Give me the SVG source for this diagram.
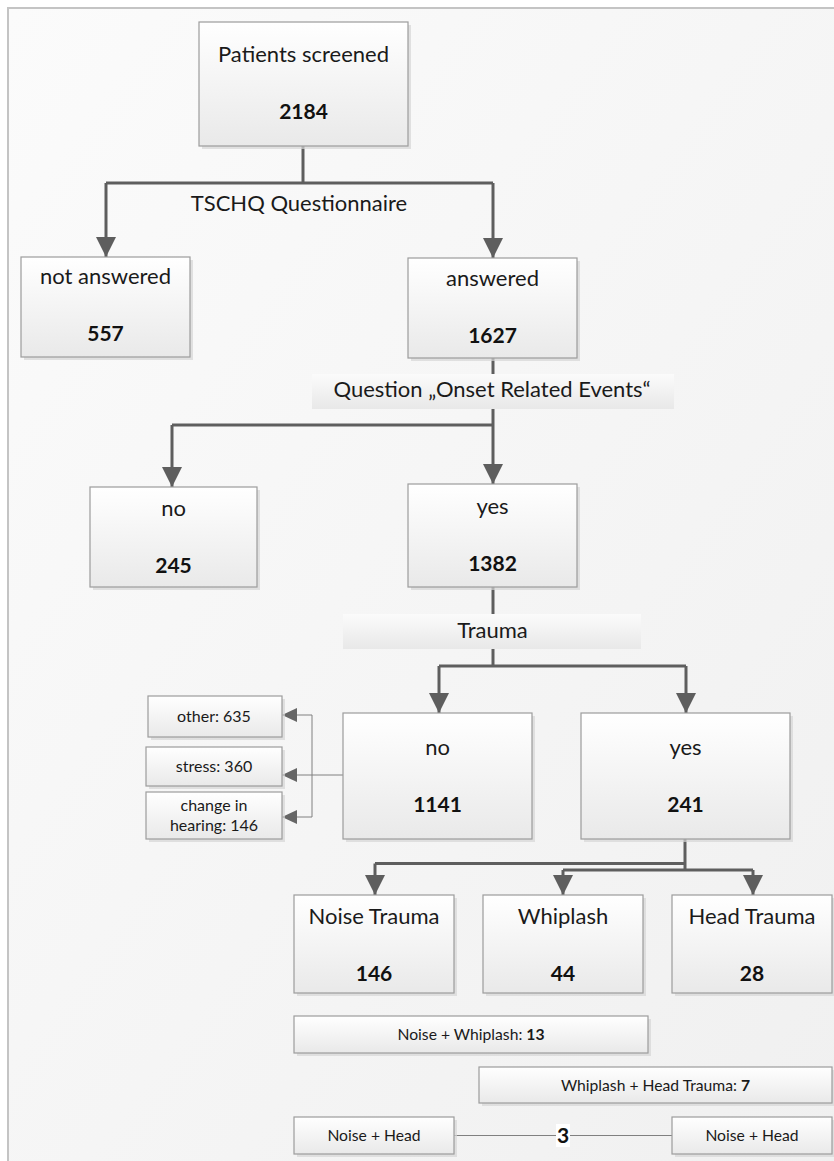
<svg xmlns="http://www.w3.org/2000/svg" width="834" height="1161" viewBox="0 0 834 1161">
<defs>
<linearGradient id="bg" x1="0" y1="0" x2="1" y2="1">
<stop offset="0" stop-color="#fbfbfb"/>
<stop offset="1" stop-color="#f0f0f0"/>
</linearGradient>
<linearGradient id="box" x1="0" y1="0" x2="0" y2="1">
<stop offset="0" stop-color="#ffffff"/>
<stop offset="1" stop-color="#e9e9e9"/>
</linearGradient>
<linearGradient id="lbl" x1="0" y1="0" x2="0" y2="1">
<stop offset="0" stop-color="#fbfbfb"/>
<stop offset="1" stop-color="#e8e8e8"/>
</linearGradient>
<marker id="ah" viewBox="0 0 20 20" refX="20" refY="10" markerWidth="20" markerHeight="20" markerUnits="userSpaceOnUse" orient="auto">
<path d="M0,0 L20,10 L0,20 Z" fill="#5e5e5e"/>
</marker>
<marker id="as" viewBox="0 0 15 14" refX="15" refY="7" markerWidth="15" markerHeight="14" markerUnits="userSpaceOnUse" orient="auto">
<path d="M0,0 L15,7 L0,14 Z" fill="#666666"/>
</marker>
<style>
.b{fill:url(#box);stroke:#9c9c9c;stroke-width:1.2}
.sh{fill:#d6d6d6;opacity:0.7}
.l{fill:url(#lbl)}
.t{font-family:Lato,"Liberation Sans",sans-serif;font-size:22px;fill:#1a1a1a;text-anchor:middle}
.n{font-family:Lato,"Liberation Sans",sans-serif;font-size:21px;font-weight:bold;fill:#111;text-anchor:middle}
.s{font-family:Lato,"Liberation Sans",sans-serif;font-size:16px;fill:#1a1a1a;text-anchor:middle}
.s2{font-family:Lato,"Liberation Sans",sans-serif;font-size:15.7px;fill:#1a1a1a;text-anchor:middle}
.c{fill:none;stroke:#5e5e5e;stroke-width:3}
.c2{fill:none;stroke:#808080;stroke-width:1}
</style>
</defs>
<rect x="0" y="0" width="834" height="1161" fill="#ffffff"/>
<rect x="8" y="8" width="826" height="1153" fill="url(#bg)"/>
<path d="M8,1161 V8 H834" fill="none" stroke="#c4c4c4" stroke-width="2"/>

<g id="connectors">
<path class="c" d="M303,146 V183"/>
<path class="c" d="M106,183 H493"/>
<path class="c" d="M106,183 V257" marker-end="url(#ah)"/>
<path class="c" d="M493,183 V258" marker-end="url(#ah)"/>
<path class="c" d="M493,358 V374"/>
<path class="c" d="M493,409 V425"/>
<path class="c" d="M172,425 H493"/>
<path class="c" d="M172,425 V487" marker-end="url(#ah)"/>
<path class="c" d="M493,425 V484" marker-end="url(#ah)"/>
<path class="c" d="M493,587 V614"/>
<path class="c" d="M493,649 V666"/>
<path class="c" d="M439,666 H686"/>
<path class="c" d="M439,666 V713" marker-end="url(#ah)"/>
<path class="c" d="M686,666 V713" marker-end="url(#ah)"/>
<path class="c" d="M685,839 V870"/>
<path class="c" d="M375,863.5 H685"/>
<path class="c" d="M563,870 H753"/>
<path class="c" d="M375,863.5 V895" marker-end="url(#ah)"/>
<path class="c" d="M563,870 V895" marker-end="url(#ah)"/>
<path class="c" d="M753,870 V895" marker-end="url(#ah)"/>
<path class="c2" d="M343,775 H282" marker-end="url(#as)"/>
<path class="c2" d="M312,715 V817"/>
<path class="c2" d="M312,715 H282" marker-end="url(#as)"/>
<path class="c2" d="M312,817 H282" marker-end="url(#as)"/>
<path class="c2" d="M454,1135.5 H672"/>
</g>

<g id="n-screened">
<rect class="sh" x="202" y="25" width="209" height="124"/>
<rect class="b" x="199" y="22" width="209" height="124"/>
<text class="t" x="303.5" y="62">Patients screened</text>
<text class="n" x="303.5" y="119">2184</text>
</g>
<g id="l-tschq">
<text class="t" x="299" y="211">TSCHQ Questionnaire</text>
</g>
<g id="n-notanswered">
<rect class="sh" x="24" y="260" width="169" height="100"/>
<rect class="b" x="21" y="257" width="169" height="100"/>
<text class="t" x="105.5" y="284">not answered</text>
<text class="n" x="105.5" y="341">557</text>
</g>
<g id="n-answered">
<rect class="sh" x="411" y="261" width="169" height="100"/>
<rect class="b" x="408" y="258" width="169" height="100"/>
<text class="t" x="492.5" y="286">answered</text>
<text class="n" x="492.5" y="343">1627</text>
</g>
<g id="l-question">
<rect class="l" x="312" y="374" width="362" height="35"/>
<text class="t" x="492" y="397">Question „Onset Related Events“</text>
</g>
<g id="n-no1">
<rect class="sh" x="93" y="490" width="167" height="100"/>
<rect class="b" x="90" y="487" width="167" height="100"/>
<text class="t" x="173.5" y="516">no</text>
<text class="n" x="173.5" y="573">245</text>
</g>
<g id="n-yes1">
<rect class="sh" x="411" y="487" width="169" height="103"/>
<rect class="b" x="408" y="484" width="169" height="103"/>
<text class="t" x="492.5" y="514">yes</text>
<text class="n" x="492.5" y="571">1382</text>
</g>
<g id="l-trauma">
<rect class="l" x="343" y="614" width="298" height="35"/>
<text class="t" x="492.5" y="638">Trauma</text>
</g>
<g id="n-no2">
<rect class="sh" x="346" y="716" width="189" height="126"/>
<rect class="b" x="343" y="713" width="189" height="126"/>
<text class="t" x="437.5" y="755">no</text>
<text class="n" x="437.5" y="812">1141</text>
</g>
<g id="n-yes2">
<rect class="sh" x="584" y="716" width="209" height="126"/>
<rect class="b" x="581" y="713" width="209" height="126"/>
<text class="t" x="685.5" y="755">yes</text>
<text class="n" x="685.5" y="812">241</text>
</g>
<g id="n-other">
<rect class="sh" x="151" y="699" width="134" height="41"/>
<rect class="b" x="148" y="696" width="134" height="41"/>
<text class="s" x="214" y="722">other: 635</text>
</g>
<g id="n-stress">
<rect class="sh" x="149" y="750" width="136" height="39"/>
<rect class="b" x="146" y="747" width="136" height="39"/>
<text class="s" x="214" y="772">stress: 360</text>
</g>
<g id="n-hearing">
<rect class="sh" x="149" y="795" width="136" height="47"/>
<rect class="b" x="146" y="792" width="136" height="47"/>
<text class="s" x="214" y="811">change in</text>
<text class="s" x="214" y="831">hearing: 146</text>
</g>
<g id="n-noise">
<rect class="sh" x="297" y="898" width="160" height="98"/>
<rect class="b" x="294" y="895" width="160" height="98"/>
<text class="t" x="374" y="924">Noise Trauma</text>
<text class="n" x="374" y="981">146</text>
</g>
<g id="n-whiplash">
<rect class="sh" x="486" y="898" width="160" height="98"/>
<rect class="b" x="483" y="895" width="160" height="98"/>
<text class="t" x="563" y="924">Whiplash</text>
<text class="n" x="563" y="981">44</text>
</g>
<g id="n-head">
<rect class="sh" x="675" y="898" width="160" height="98"/>
<rect class="b" x="672" y="895" width="160" height="98"/>
<text class="t" x="752" y="924">Head Trauma</text>
<text class="n" x="752" y="981">28</text>
</g>
<g id="n-noise-whiplash">
<rect class="sh" x="297" y="1019" width="354" height="37"/>
<rect class="b" x="294" y="1016" width="354" height="37"/>
<text class="s2" x="471" y="1040">Noise + Whiplash: <tspan font-weight="bold">13</tspan></text>
</g>
<g id="n-whiplash-head">
<rect class="sh" x="482" y="1070" width="353" height="36"/>
<rect class="b" x="479" y="1067" width="353" height="36"/>
<text class="s2" x="655.5" y="1091">Whiplash + Head Trauma: <tspan font-weight="bold">7</tspan></text>
</g>
<g id="n-noise-head-1">
<rect class="sh" x="297" y="1120" width="160" height="37"/>
<rect class="b" x="294" y="1117" width="160" height="37"/>
<text class="s2" x="374" y="1141">Noise + Head</text>
</g>
<g id="n-noise-head-2">
<rect class="sh" x="675" y="1120" width="160" height="37"/>
<rect class="b" x="672" y="1117" width="160" height="37"/>
<text class="s2" x="752" y="1141">Noise + Head</text>
</g>
<g id="l-three">
<rect x="556" y="1124" width="14" height="23" fill="#ffffff"/>
<text class="n" x="563" y="1143" font-size="20">3</text>
</g>
</svg>
